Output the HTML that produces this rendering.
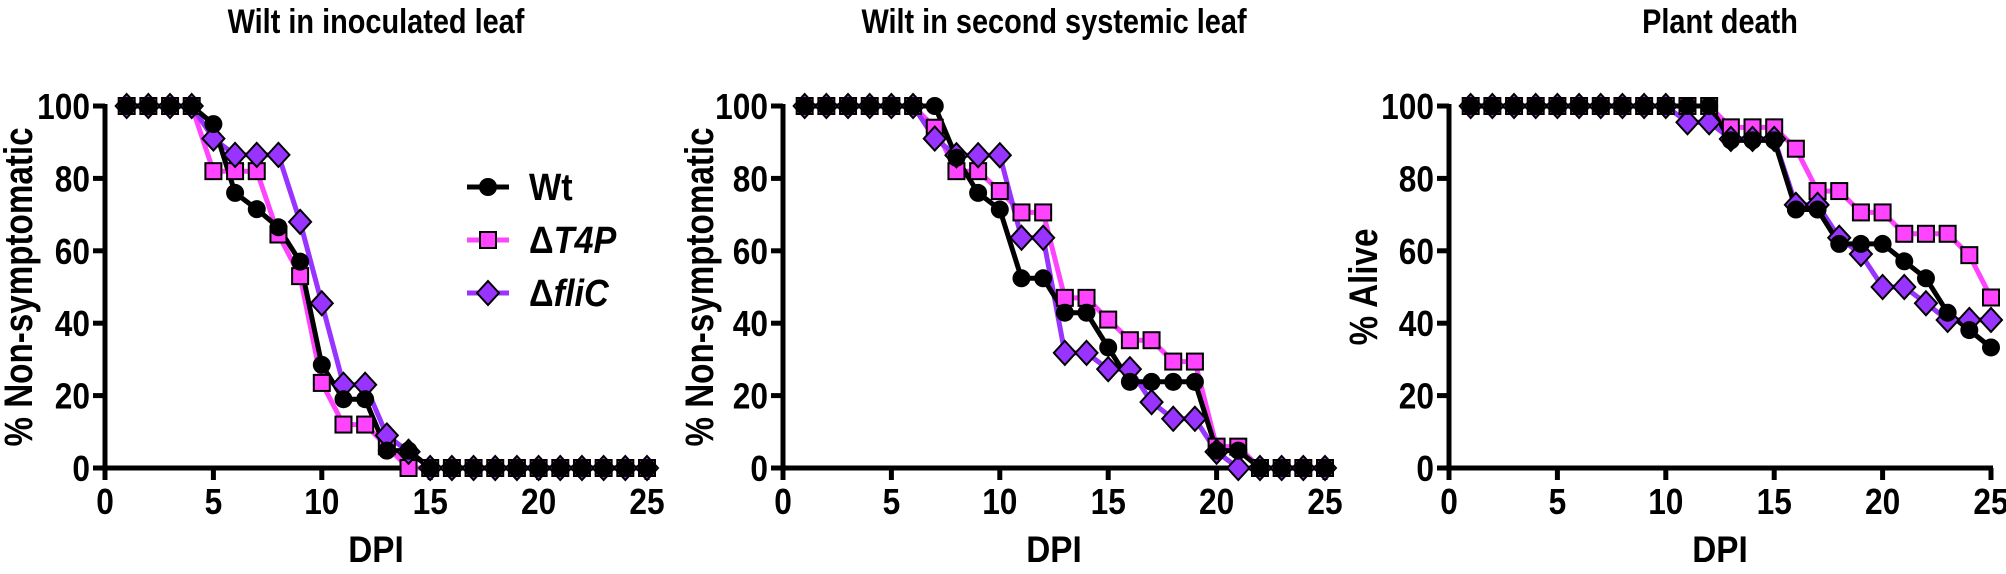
<!DOCTYPE html>
<html><head><meta charset="utf-8"><style>
html,body{margin:0;padding:0;background:#fff;}
svg{display:block;font-family:"Liberation Sans",Arial,sans-serif;font-weight:bold;}
</style></head><body>
<svg id="s" width="2006" height="574" viewBox="0 0 2006 574" xmlns="http://www.w3.org/2000/svg"></svg>
<script>
const S=document.getElementById('s');
let h='';
const Y0=468,YU=3.62,XU=21.68;
const PINK='#ff44ff',PURP='#9933ff';
function T(x,y,size,anchor,sx,content,rot){
 const r=rot?` rotate(${rot})`:'';
 return `<text transform="translate(${x},${y})${r} scale(${sx},1)" font-size="${size}" text-anchor="${anchor}">${content}</text>`;
}
const panels=[
 {x0:105,title:'Wilt in inoculated leaf',ylab:'% Non-symptomatic',ylx:18,
  wt:[100,100,100,100,95,76,71.5,66.5,57,28.5,19,19,4.8,4.8,0,0,0,0,0,0,0,0,0,0,0],
  t4:[100,100,100,100,82,82,82,64.5,53,23.5,12,12,6,0,0,0,0,0,0,0,0,0,0,0,0],
  fl:[100,100,100,100,91,86.5,86.5,86.5,68,45.5,23,23,9,4.5,0,0,0,0,0,0,0,0,0,0,0]},
 {x0:783,title:'Wilt in second systemic leaf',ylab:'% Non-symptomatic',ylx:699,
  wt:[100,100,100,100,100,100,100,85.7,76,71.4,52.4,52.4,42.9,42.9,33.3,23.8,23.8,23.8,23.8,4.8,4.8,0,0,0,0],
  t4:[100,100,100,100,100,100,94,82,82,76.5,70.6,70.6,47,47,41,35.3,35.3,29.4,29.4,5.9,5.9,0,0,0,0],
  fl:[100,100,100,100,100,100,91,86.4,86.4,86.4,63.6,63.6,31.8,31.8,27.3,27.3,18.2,13.6,13.6,4.5,0,0,0,0,0]},
 {x0:1449,title:'Plant death',ylab:'% Alive',ylx:1363,
  wt:[100,100,100,100,100,100,100,100,100,100,100,100,90.5,90.5,90.5,71.4,71.4,61.9,61.9,61.9,57.1,52.4,42.9,38.1,33.3],
  t4:[100,100,100,100,100,100,100,100,100,100,100,100,94.1,94.1,94.1,88.2,76.5,76.5,70.6,70.6,64.7,64.7,64.7,58.8,47.1],
  fl:[100,100,100,100,100,100,100,100,100,100,95.5,95.5,90.9,90.9,90.9,72.7,72.7,63.6,59.1,50,50,45.5,40.9,40.9,40.9]}
];
function sq(x,y){return `<rect x="${x-8}" y="${y-8}" width="16" height="16" fill="${PINK}" stroke="#000" stroke-width="2"/>`;}
function di(x,y){return `<polygon points="${x},${y-12} ${x+11},${y} ${x},${y+12} ${x-11},${y}" fill="${PURP}" stroke="#000" stroke-width="2"/>`;}
function ci(x,y){return `<circle cx="${x}" cy="${y}" r="9" fill="#000"/>`;}
for(const p of panels){
 const X=v=>p.x0+v*XU, Y=v=>Y0-v*YU;
 const cx=p.x0+271;
 h+=T(cx,33,34,'middle',0.85,p.title);
 h+=T(cx,562,37,'middle',0.9,'DPI');
 h+=T(p.ylx+14,287,40,'middle',0.83,p.ylab,-90);
 h+=`<line x1="${p.x0}" y1="${Y(100)-2}" x2="${p.x0}" y2="${Y0+2}" stroke="#000" stroke-width="5"/>`;
 h+=`<line x1="${p.x0-2}" y1="${Y0}" x2="${X(25)+2}" y2="${Y0}" stroke="#000" stroke-width="5"/>`;
 for(let v=0;v<=100;v+=20){h+=`<line x1="${p.x0-12}" y1="${Y(v)}" x2="${p.x0}" y2="${Y(v)}" stroke="#000" stroke-width="5"/>`;
  h+=T(p.x0-15,Y(v)+13,36,'end',0.88,v);}
 for(let v=0;v<=25;v+=5){h+=`<line x1="${X(v)}" y1="${Y0}" x2="${X(v)}" y2="${Y0+12}" stroke="#000" stroke-width="5"/>`;
  h+=T(X(v),Y0+46,36,'middle',0.88,v);}
 const pts=a=>a.map((v,i)=>`${X(i+1).toFixed(1)},${Y(v).toFixed(1)}`).join(' ');
 h+=`<polyline points="${pts(p.t4)}" fill="none" stroke="${PINK}" stroke-width="5" stroke-linejoin="round"/>`;
 h+=`<polyline points="${pts(p.fl)}" fill="none" stroke="${PURP}" stroke-width="5" stroke-linejoin="round"/>`;
 h+=`<polyline points="${pts(p.wt)}" fill="none" stroke="#000" stroke-width="5" stroke-linejoin="round"/>`;
 p.t4.forEach((v,i)=>h+=sq(X(i+1),Y(v)));
 p.fl.forEach((v,i)=>h+=di(X(i+1),Y(v)));
 p.wt.forEach((v,i)=>h+=ci(X(i+1),Y(v)));
}
const L=[[187,'#000','Wt',ci],[240,PINK,'T4P',sq],[293,PURP,'fliC',di]];
for(const [y,c,t,f] of L){
 h+=`<line x1="467" y1="${y}" x2="509" y2="${y}" stroke="${c}" stroke-width="5"/>`;
 h+=f(488,y);
 if(t==='Wt')h+=T(529,y+13,38,'start',0.9,'Wt');
 else h+=T(529,y+13,38,'start',0.9,`Δ<tspan font-style="italic">${t}</tspan>`);
}
S.innerHTML=h;
</script>
</body></html>
